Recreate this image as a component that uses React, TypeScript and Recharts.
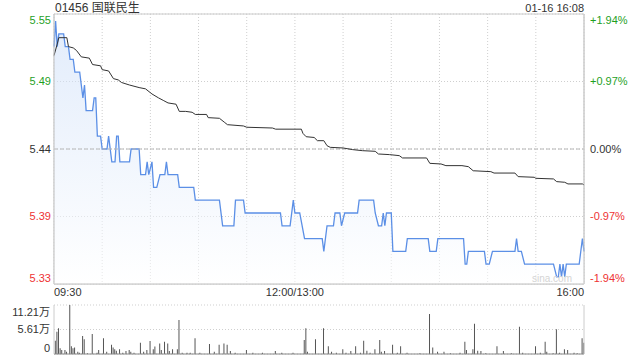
import React from "react";
import {
  ComposedChart,
  BarChart,
  Area,
  Line,
  Bar,
  XAxis,
  YAxis,
  CartesianGrid,
  ReferenceLine,
  ReferenceArea,
} from "recharts";

// minute index: 0 = 09:30, 150 = 12:00/13:00, 330 = 16:00
const priceMinutes = [
  0, 1, 2, 3, 6, 7, 9, 10, 12, 13, 16, 17, 18, 19, 20, 24, 25, 26, 27, 29, 30, 33, 34, 36, 38, 39, 40, 41, 47,
  48, 53, 54, 57, 58, 59, 61, 62, 64, 66, 69, 70, 71, 77, 78, 87, 88, 103, 105, 112, 113, 118, 119, 141, 142,
  147, 149, 150, 153, 156, 167, 168, 170, 174, 175, 178, 179, 181, 189, 190, 199, 200, 202, 204, 205, 206, 207,
  210, 211, 219, 220, 233, 234, 238, 239, 255, 256, 257, 258, 268, 269, 271, 273, 287, 288, 289, 291, 293, 311,
  313, 314, 315, 316, 317, 318, 319, 327, 329, 330,
];
const priceValues = [
  5.52, 5.54, 5.52, 5.53, 5.53, 5.52, 5.52, 5.51, 5.51, 5.5, 5.5, 5.49, 5.48, 5.49, 5.47, 5.47, 5.48, 5.48, 5.45,
  5.45, 5.44, 5.44, 5.45, 5.43, 5.43, 5.45, 5.45, 5.43, 5.43, 5.44, 5.44, 5.42, 5.42, 5.43, 5.42, 5.43, 5.41,
  5.41, 5.42, 5.42, 5.43, 5.42, 5.42, 5.41, 5.41, 5.4, 5.4, 5.38, 5.38, 5.4, 5.4, 5.39, 5.39, 5.38, 5.38, 5.4,
  5.39, 5.39, 5.37, 5.37, 5.36, 5.38, 5.38, 5.39, 5.39, 5.38, 5.39, 5.39, 5.4, 5.4, 5.39, 5.38, 5.38, 5.39,
  5.38, 5.39, 5.39, 5.36, 5.36, 5.37, 5.37, 5.36, 5.36, 5.37, 5.37, 5.35, 5.35, 5.36, 5.36, 5.35, 5.35, 5.36,
  5.36, 5.37, 5.36, 5.36, 5.35, 5.35, 5.34, 5.34, 5.35, 5.34, 5.35, 5.34, 5.35, 5.35, 5.37, 5.36,
];

const avgMinutes = [
  0, 2, 3, 8, 9, 12, 14, 17, 22, 24, 29, 30, 34, 37, 40, 42, 47, 53, 57, 61, 65, 68, 71, 76, 78, 82, 86, 88, 95,
  96, 103, 106, 108, 118, 120, 136, 138, 154, 155, 157, 162, 164, 168, 170, 172, 180, 186, 192, 200, 202, 209,
  215, 217, 232, 234, 241, 244, 254, 258, 261, 272, 274, 287, 289, 299, 300, 311, 313, 318, 320, 329, 330,
];
const avgValues = [
  5.513, 5.522, 5.527, 5.527, 5.52, 5.519, 5.517, 5.512, 5.511, 5.506, 5.505, 5.502, 5.501, 5.495, 5.494, 5.492,
  5.49, 5.488, 5.487, 5.483, 5.48, 5.478, 5.476, 5.475, 5.4694, 5.4694, 5.4687, 5.467, 5.467, 5.4645, 5.464,
  5.461, 5.459, 5.458, 5.457, 5.4564, 5.4555, 5.4555, 5.4522, 5.4496, 5.449, 5.4465, 5.4465, 5.4426, 5.4413,
  5.4408, 5.4395, 5.4387, 5.4382, 5.4361, 5.4356, 5.4348, 5.433, 5.433, 5.4288, 5.4283, 5.427, 5.427, 5.4262,
  5.423, 5.4223, 5.4212, 5.4212, 5.4184, 5.4179, 5.4171, 5.4166, 5.4145, 5.414, 5.4127, 5.4127, 5.412,
];

// volume in 万 shares
const volMinutes = [
  1, 2, 3, 4, 5, 7, 8, 10, 11, 12, 13, 15, 16, 18, 19, 21, 24, 27, 28, 31, 33, 36, 37, 38, 39, 41, 43, 45, 47,
  48, 50, 54, 56, 58, 60, 62, 63, 66, 67, 69, 71, 72, 74, 77, 78, 80, 83, 85, 88, 91, 97, 100, 103, 106, 108,
  110, 113, 120, 124, 130, 138, 142, 149, 156, 157, 158, 163, 168, 171, 173, 176, 180, 182, 185, 188, 191, 193,
  195, 197, 200, 203, 204, 206, 211, 214, 216, 220, 228, 234, 236, 239, 243, 247, 253, 256, 257, 261, 262, 264,
  266, 269, 276, 280, 285, 290, 292, 300, 303, 306, 307, 311, 313, 315, 318, 320, 324, 326, 329, 330,
];
const volValues = [
  3.05, 5.1, 5.9, 1.3, 0.9, 0.9, 0.5, 11.21, 1.8, 1.3, 1.5, 0.5, 0.3, 4.1, 3.35, 0.15, 4.6, 0.3, 0.9, 3.6, 0.5,
  2.1, 1.5, 1.1, 0.75, 1.1, 0.3, 0.7, 0.9, 0.5, 0.3, 2.6, 0.5, 0.9, 3.0, 1.1, 1.7, 2.4, 0.9, 2.8, 2.4, 0.7, 1.1,
  1.1, 7.8, 0.3, 0.3, 0.3, 3.6, 0.3, 2.3, 0.5, 2.1, 2.4, 2.1, 0.7, 0.3, 0.9, 0.3, 0.3, 0.7, 0.3, 0.3, 3.2, 5.9,
  0.5, 3.35, 5.9, 1.8, 0.5, 0.3, 1.1, 0.3, 0.7, 1.8, 0.3, 3.05, 0.75, 0.3, 1.1, 3.2, 0.5, 0.7, 2.1, 0.3, 1.8,
  0.3, 0.15, 9.15, 1.5, 0.5, 0.5, 0.15, 0.3, 2.8, 0.9, 1.1, 6.9, 0.75, 0.7, 0.15, 1.8, 0.7, 0.15, 6.25, 0.3,
  1.8, 0.3, 2.8, 0.5, 0.15, 5.65, 0.3, 1.1, 0.9, 0.3, 0.15, 3.6, 2.6,
];

const priceTicks = [5.3345, 5.38725, 5.44, 5.49275, 5.5455];
const priceLabels = ["5.33", "5.39", "5.44", "5.49", "5.55"];
const pctLabels = ["-1.94%", "-0.97%", "0.00%", "+0.97%", "+1.94%"];
const timeTicks = [0, 30, 60, 90, 120, 150, 180, 210, 240, 270, 300, 330];
const timeLabels: Record<number, string> = { 0: "09:30", 150: "12:00/13:00", 330: "16:00" };
const volTicks = [0, 5.605, 11.21];
const volLabels = ["0", "5.61万", "11.21万"];

const priceData = priceMinutes.map((m, i) => ({ m, price: priceValues[i] }));
const avgData = avgMinutes.map((m, i) => ({ m, avg: avgValues[i] }));
const volData = volMinutes.map((m, i) => ({ m, vol: volValues[i] }));

const FONT = '"Liberation Sans", Arial, "Noto Sans CJK SC", sans-serif';
const GREEN = "#1f9f1f";
const RED = "#ee3333";
const tickColors = [RED, RED, "#333", GREEN, GREEN];

const PriceTick = (props: any) => {
  const { x, y, payload } = props;
  const i = priceTicks.indexOf(payload.value);
  const dy = i === 0 ? -6 : i === 4 ? 6 : 0;
  return (
    <text x={x} y={y + dy} dy="0.36em" textAnchor="end" fill={tickColors[i]} fontSize={11} fontFamily={FONT}>
      {priceLabels[i]}
    </text>
  );
};

const PctTick = (props: any) => {
  const { x, y, payload } = props;
  const i = priceTicks.indexOf(payload.value);
  const dy = i === 0 ? -6 : i === 4 ? 6 : 0;
  return (
    <text x={x} y={y + dy} dy="0.36em" textAnchor="start" fill={tickColors[i]} fontSize={11} fontFamily={FONT}>
      {pctLabels[i]}
    </text>
  );
};

const TimeTick = (props: any) => {
  const { x, y, payload } = props;
  const label = timeLabels[payload.value];
  if (!label) return null;
  const anchor = payload.value === 0 ? "start" : payload.value === 330 ? "end" : "middle";
  return (
    <text x={x} y={y} dy="0.75em" textAnchor={anchor} fill="#333" fontSize={11} fontFamily={FONT}>
      {label}
    </text>
  );
};

const VolTick = (props: any) => {
  const { x, y, payload } = props;
  const i = volTicks.indexOf(payload.value);
  const dy = i === 2 ? 7 : i === 0 ? -6 : 0;
  return (
    <text x={x} y={y + dy} dy="0.36em" textAnchor="end" fill="#333" fontSize={11} fontFamily={FONT}>
      {volLabels[i]}
    </text>
  );
};

export default function App() {
  return (
    <div
      style={{
        position: "absolute",
        left: 0,
        top: 0,
        width: 640,
        height: 360,
        background: "#fff",
        fontFamily: FONT,
      }}
    >
      <div style={{ position: "absolute", left: 55, top: 0, fontSize: 12, lineHeight: "16px", color: "#333" }}>
        01456 国联民生
      </div>
      <div
        style={{
          position: "absolute",
          right: 56,
          top: 1,
          fontSize: 11,
          lineHeight: "14px",
          color: "#333",
        }}
      >
        01-16 16:08
      </div>

      <div style={{ position: "absolute", left: 0, top: 0 }}>
        <ComposedChart width={640} height={300} margin={{ top: 14, right: 0, bottom: 0, left: 0 }}>
          <defs>
            <linearGradient id="priceFill" x1="0" y1="0" x2="0" y2="1">
              <stop offset="0%" stopColor="#c9dcf8" stopOpacity={0.9} />
              <stop offset="100%" stopColor="#ffffff" stopOpacity={0.9} />
            </linearGradient>
          </defs>
          <CartesianGrid stroke="#cfcfcf" strokeDasharray="1 2" />
          <XAxis
            dataKey="m"
            type="number"
            domain={[0, 330]}
            ticks={timeTicks}
            interval={0}
            height={16}
            tickSize={0}
            tickMargin={4}
            tick={<TimeTick />}
            axisLine={{ stroke: "#ccc" }}
          />
          <YAxis
            type="number"
            domain={[5.3345, 5.5455]}
            ticks={priceTicks}
            interval={0}
            width={54}
            tickSize={0}
            tickMargin={3}
            tick={<PriceTick />}
            axisLine={{ stroke: "#ccc" }}
            allowDataOverflow
          />
          <YAxis
            yAxisId="right"
            orientation="right"
            type="number"
            domain={[5.3345, 5.5455]}
            ticks={priceTicks}
            interval={0}
            width={56}
            tickSize={0}
            tickMargin={6}
            tick={<PctTick />}
            axisLine={{ stroke: "#ccc" }}
            allowDataOverflow
          />
          <ReferenceLine y={5.44} stroke="#b8b8b8" strokeDasharray="4 2" />
          <ReferenceArea x1={0} x2={330} y1={5.3345} y2={5.5455} fill="none" stroke="#ccc" />
          <Area
            data={priceData}
            dataKey="price"
            type="linear"
            stroke="#5b8fe6"
            strokeWidth={1.3}
            fill="url(#priceFill)"
            dot={false}
            activeDot={false}
            isAnimationActive={false}
          />
          <Line
            data={avgData}
            dataKey="avg"
            type="linear"
            stroke="#333"
            strokeWidth={1}
            dot={false}
            activeDot={false}
            isAnimationActive={false}
          />
        </ComposedChart>
      </div>

      <div
        style={{ position: "absolute", left: 532, top: 273, fontSize: 10, lineHeight: "12px", color: "#d4d4d4" }}
      >
        sina.com
      </div>

      <div style={{ position: "absolute", left: 0, top: 300 }}>
        <BarChart width={640} height={60} data={volData} margin={{ top: 5, right: 0, bottom: 6, left: 0 }}>
          <CartesianGrid stroke="#cfcfcf" strokeDasharray="1 2" vertical={false} />
          <XAxis dataKey="m" type="number" domain={[0, 330]} hide />
          <YAxis
            type="number"
            domain={[0, 11.21]}
            ticks={volTicks}
            interval={0}
            width={54}
            tickSize={0}
            tickMargin={4}
            tick={<VolTick />}
            axisLine={{ stroke: "#ccc" }}
          />
          <YAxis
            yAxisId="right"
            orientation="right"
            type="number"
            domain={[0, 11.21]}
            width={56}
            tick={false}
            tickSize={0}
            axisLine={{ stroke: "#ccc" }}
          />
          <ReferenceLine y={0} stroke="#888" />
          <Bar dataKey="vol" fill="#555" barSize={1} isAnimationActive={false} />
        </BarChart>
      </div>
    </div>
  );
}
